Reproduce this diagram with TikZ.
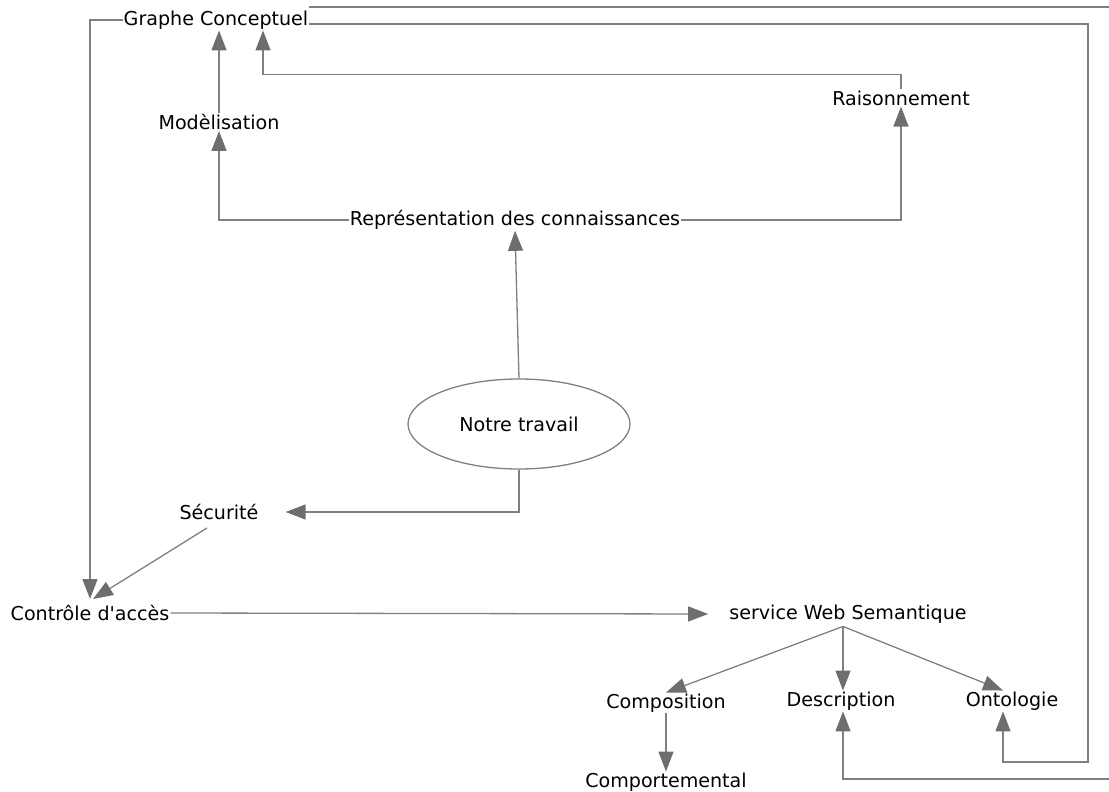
\documentclass[tikz,border=0pt]{standalone}
\usepackage{fontspec}
\setmainfont{DejaVu Sans}
\usetikzlibrary{arrows.meta,shapes.geometric,calc}
\definecolor{linegray}{HTML}{808080}
\definecolor{tipgray}{HTML}{6E6E6E}
\begin{document}
\begin{tikzpicture}[x=1pt,y=-1pt,
  lbl/.style={inner sep=1pt,font=\fontsize{19.1}{22}\selectfont},
  conn/.style={draw=linegray,line width=1.3pt},
  arr/.style={conn,-{Triangle[length=20pt,width=15pt,fill=tipgray,color=tipgray]}}]
\useasboundingbox (0,0) rectangle (1109,792);
\clip (0,0) rectangle (1109,792);

% concept labels
\node[lbl] (gc)    at (216,20)  {Graphe Conceptuel};
\node[lbl] (mod)   at (219,122) {Modèlisation};
\node[lbl] (rai)   at (901,98)  {Raisonnement};
\node[lbl] (rep)   at (515,220) {Représentation des connaissances};
\node[ellipse,draw=linegray,line width=1.3pt,minimum width=222pt,minimum height=90pt,
      font=\fontsize{19.1}{22}\selectfont] (nt) at (519,424) {Notre travail};
\node[lbl] (sec)   at (219,512) {Sécurité};
\node[lbl] (ca)    at (90,613)  {Contrôle d\textquotesingle accès};
\node[lbl] (sws)   at (848,614) {service Web Semantique};
\node[lbl] (comp)  at (666,703) {Composition};
\node[lbl] (desc)  at (841,701) {Description};
\node[lbl] (onto)  at (1012,701){Ontologie};
\node[lbl] (compt) at (666,782) {Comportemental};

% upper part
\draw[arr] (mod.north) -- (mod.north |- gc.south);
\draw[arr] (rai.north) -- ++(0,-15) -| ([xshift=47pt]gc.south);
\draw[arr] (rep.west) -| (mod.south);
\draw[arr] (rep.east) -| (rai.south);
\draw[arr] (nt.north) -- (rep.south);

% security branch
\draw[arr] (nt.south) |- ([xshift=26pt]sec.east);
\draw[arr] ([xshift=-12pt,yshift=-7pt]sec.south) -- ([xshift=3pt,yshift=5pt]ca.north);
\draw[arr] (gc.west) -| ([yshift=5pt]ca.north);
\draw[arr] (ca.east) -- ([xshift=-20pt]sws.west);

% semantic web service branch
\coordinate (hub) at ([xshift=-5pt,yshift=-2pt]sws.south);
\draw[arr] (hub) -- (comp.north);
\draw[arr] (hub) -- (hub |- desc.north);
\draw[arr] (hub) -- ([xshift=-9pt]onto.north);
\draw[arr] (comp.south) -- (compt.north);

% long return connectors
\draw[arr] ([yshift=-4pt]gc.east) -| (1088,762) -| ([xshift=-9pt]onto.south);
\draw[arr] ([yshift=13pt]gc.east) -| (1130,779) -| (hub |- desc.south);
\end{tikzpicture}
\end{document}
